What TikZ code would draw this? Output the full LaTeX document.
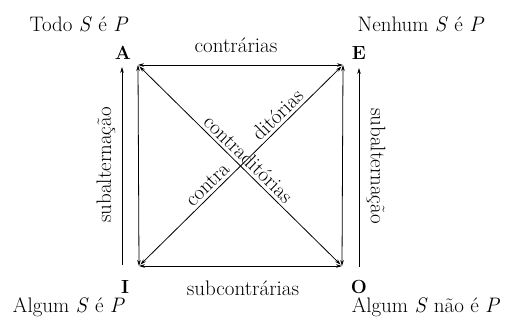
\documentclass[tikz,border=0pt]{standalone}
\usetikzlibrary{arrows.meta}
\begin{document}
\begin{tikzpicture}[x=1pt,y=-1pt,
  tip/.tip={Stealth[length=6pt,width=3.6pt]},
  conn/.style={line width=0.8pt,tip-tip},
  sub/.style={line width=0.8pt,-tip},
  lbl/.style={font=\fontsize{21}{24}\selectfont,inner sep=0pt},
  vow/.style={font=\fontsize{19}{22}\selectfont\bfseries,inner sep=0pt}]
\useasboundingbox (0,0) rectangle (512,329);
\coordinate (A) at (138,65);
\coordinate (E) at (343,65);
\coordinate (I) at (139,266);
\coordinate (O) at (342,266);
\coordinate (sl0) at (122,265);
\coordinate (sl1) at (122,67);
\coordinate (sr0) at (359,267);
\coordinate (sr1) at (359,68);
\draw[conn] (A) -- (E);
\draw[conn] (I) -- (O);
\draw[conn] (A) -- (I);
\draw[conn] (E) -- (O);
\draw[conn,shorten <=2pt,shorten >=2pt] (A) -- (O)
  node[lbl,sloped,above=3pt,pos=0.505] (d1) {contraditórias};
\draw[conn,shorten <=2pt,shorten >=2pt] (I) -- (E)
  node[lbl,sloped,above=3pt,pos=0.37] (d2a) {contra}
  node[lbl,sloped,above=3pt,pos=0.715] (d2b) {ditórias};
\draw[sub] (sl0) -- (sl1);
\draw[sub] (sr0) -- (sr1);
\node[lbl,anchor=base] (tA) at (79,32) {Todo \textit{S} é \textit{P}};
\node[vow,anchor=base] (lA) at (123,60) {A};
\node[lbl,anchor=base] (tE) at (421,32) {Nenhum \textit{S} é \textit{P}};
\node[vow,anchor=base] (lE) at (359,60) {E};
\node[vow,anchor=base] (lI) at (125,293) {I};
\node[lbl,anchor=base] (tI) at (69,312) {Algum \textit{S} é \textit{P}};
\node[vow,anchor=base] (lO) at (359,293) {O};
\node[lbl,anchor=base] (tO) at (426,312) {Algum \textit{S} não é \textit{P}};
\node[lbl,anchor=base] (c1) at (236,53) {contrárias};
\node[lbl,anchor=base] (c2) at (243,295) {subcontrárias};
\node[lbl,rotate=90] (s1) at (106,165) {subalternação};
\node[lbl,rotate=-90] (s2) at (376,166) {subalternação};
\end{tikzpicture}
\end{document}
